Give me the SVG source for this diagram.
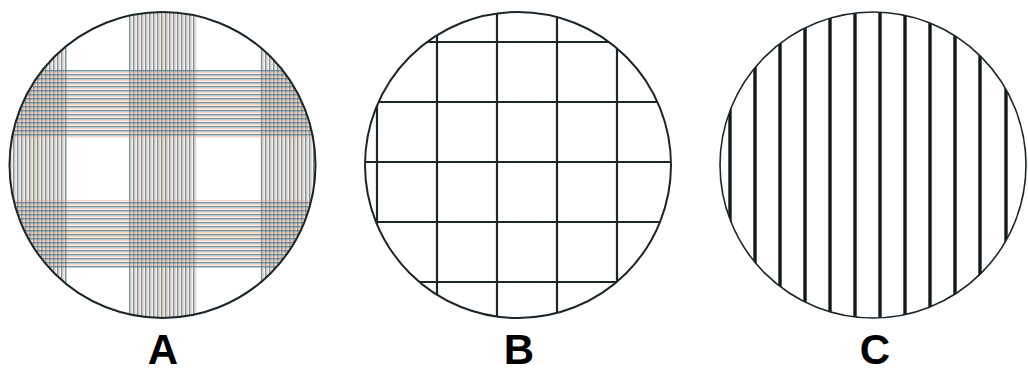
<svg xmlns="http://www.w3.org/2000/svg" width="1028" height="369" viewBox="0 0 1028 369">
<style>
.ring{fill:none;stroke:#1c2626;stroke-width:2}
.gridB line{stroke:#1c2626;stroke-width:2.2}
.gridC line{stroke:#121a1a;stroke-width:3.4}
.lbl{font-family:"Liberation Sans",Arial,sans-serif;font-weight:bold;font-size:42px;fill:#000;text-anchor:middle}
</style>
<defs>
<clipPath id="cA"><circle cx="162.5" cy="165" r="153"/></clipPath>
<clipPath id="cB"><circle cx="518" cy="165" r="153"/></clipPath>
<clipPath id="cC"><circle cx="873" cy="165" r="153"/></clipPath>
<pattern id="pv" patternUnits="userSpaceOnUse" x="129" y="0" width="4" height="4">
<rect x="0" y="0" width="1.5" height="4" fill="#587b8b" fill-opacity="0.8"/>
<rect x="2.3" y="0" width="1" height="4" fill="#e4a084" fill-opacity="0.6"/>
</pattern>
<pattern id="ph" patternUnits="userSpaceOnUse" x="0" y="70" width="4" height="4">
<rect x="0" y="0" width="4" height="1.5" fill="#587b8b" fill-opacity="0.8"/>
<rect x="0" y="2.3" width="4" height="1" fill="#e4a084" fill-opacity="0.6"/>
</pattern>
</defs>
<g id="nodeA">
<g clip-path="url(#cA)">
<rect x="0" y="0" width="330" height="330" fill="#fff"/>
<g fill="#fdf7e4">
<rect x="29" y="0" width="9" height="330"/>
<rect x="159" y="0" width="9" height="330"/>
<rect x="289" y="0" width="9" height="330"/>
<rect x="0" y="99" width="330" height="9"/>
<rect x="0" y="229" width="330" height="9"/>
</g>
<g fill="url(#pv)">
<rect x="-3" y="0" width="70" height="330"/>
<rect x="129" y="0" width="68" height="330"/>
<rect x="260" y="0" width="68" height="330"/>
</g>
<g fill="url(#ph)">
<rect x="0" y="70" width="330" height="68"/>
<rect x="0" y="200" width="330" height="68"/>
</g>
</g>
<circle class="ring" cx="162.5" cy="165" r="153"/>
<text class="lbl" x="163" y="364">A</text>
</g>
<g id="nodeB">
<rect x="365" y="12" width="306" height="306" fill="#fff" clip-path="url(#cB)"/>
<g class="gridB" clip-path="url(#cB)">
<line x1="377" y1="0" x2="377" y2="330"/>
<line x1="437" y1="0" x2="437" y2="330"/>
<line x1="497" y1="0" x2="497" y2="330"/>
<line x1="557" y1="0" x2="557" y2="330"/>
<line x1="617" y1="0" x2="617" y2="330"/>
<line x1="360" y1="42" x2="680" y2="42"/>
<line x1="360" y1="102" x2="680" y2="102"/>
<line x1="360" y1="162" x2="680" y2="162"/>
<line x1="360" y1="222" x2="680" y2="222"/>
<line x1="360" y1="282" x2="680" y2="282"/>
</g>
<circle class="ring" cx="518" cy="165" r="153"/>
<text class="lbl" x="519" y="364">B</text>
</g>
<g id="nodeC">
<g class="gridC" clip-path="url(#cC)">
<line x1="730" y1="0" x2="730" y2="330"/>
<line x1="755" y1="0" x2="755" y2="330"/>
<line x1="780" y1="0" x2="780" y2="330"/>
<line x1="805" y1="0" x2="805" y2="330"/>
<line x1="830" y1="0" x2="830" y2="330"/>
<line x1="855" y1="0" x2="855" y2="330"/>
<line x1="880" y1="0" x2="880" y2="330"/>
<line x1="905" y1="0" x2="905" y2="330"/>
<line x1="930" y1="0" x2="930" y2="330"/>
<line x1="955" y1="0" x2="955" y2="330"/>
<line x1="980" y1="0" x2="980" y2="330"/>
<line x1="1006" y1="0" x2="1006" y2="330"/>
</g>
<circle class="ring" cx="873" cy="165" r="153" style="stroke-width:1.6"/>
<text class="lbl" x="875" y="364">C</text>
</g>
</svg>
